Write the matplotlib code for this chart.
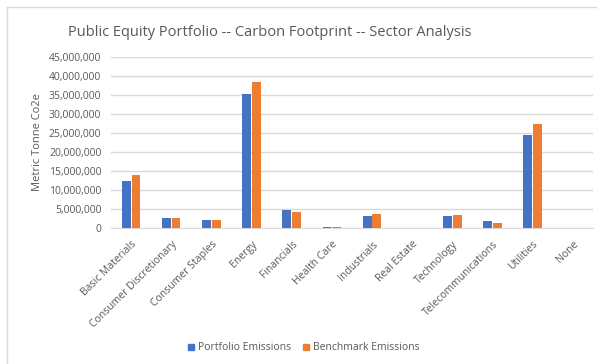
import matplotlib.pyplot as plt
import numpy as np
from matplotlib.ticker import FuncFormatter
from matplotlib.lines import Line2D

plt.rcParams['font.family'] = ['Open Sans', 'DejaVu Sans']

sectors = [
    "Basic Materials", "Consumer Discretionary", "Consumer Staples", "Energy",
    "Financials", "Health Care", "Industrials", "Real Estate", "Technology",
    "Telecommunications", "Utilities", "None",
]
portfolio = [12.4e6, 2.6e6, 2.0e6, 35.1e6, 4.8e6, 0.3e6, 3.2e6, 0, 3.0e6, 1.8e6, 24.4e6, 0]
benchmark = [13.9e6, 2.7e6, 2.0e6, 38.3e6, 4.1e6, 0.3e6, 3.7e6, 0, 3.3e6, 1.3e6, 27.3e6, 0]

BLUE = "#4472C4"
ORANGE = "#ED7D31"
GREY = "#595959"

fig = plt.figure(figsize=(5.97, 3.64), dpi=100)
ax = fig.add_axes([0.186, 0.374, 0.807, 0.470])

x = np.arange(len(sectors))
w = 0.22
ax.bar(x - 0.12, portfolio, w, color=BLUE, label="Portfolio Emissions", zorder=3)
ax.bar(x + 0.12, benchmark, w, color=ORANGE, label="Benchmark Emissions", zorder=3)

ax.set_xlim(-0.5, len(sectors) - 0.5)
ax.set_ylim(0, 45e6)
ax.set_yticks(np.arange(0, 45e6 + 1, 5e6))
ax.yaxis.set_major_formatter(FuncFormatter(lambda v, p: f"{v:,.0f}"))
ax.grid(axis="y", color="#D9D9D9", linewidth=1, zorder=0)
for s in ["top", "right", "left"]:
    ax.spines[s].set_visible(False)
ax.spines["bottom"].set_color("#D9D9D9")
ax.tick_params(axis="both", length=0, labelsize=7.5, colors=GREY)
ax.tick_params(axis="y", pad=7)
ax.tick_params(axis="x", pad=8)

ax.set_xticks(x)
ax.set_xticklabels(sectors, rotation=45, ha="right", rotation_mode="anchor")
ax.set_ylabel("Metric Tonne Co2e", fontsize=8, color=GREY, labelpad=4)

fig.text(0.452, 0.912, "Public Equity Portfolio -- Carbon Footprint -- Sector Analysis",
         ha="center", va="center", fontsize=10.5, color=GREY)

handles = [
    Line2D([], [], marker="s", linestyle="", color=BLUE, markersize=5),
    Line2D([], [], marker="s", linestyle="", color=ORANGE, markersize=5),
]
fig.legend(handles, ["Portfolio Emissions", "Benchmark Emissions"],
           loc="center", bbox_to_anchor=(0.506, 0.044), ncol=2, frameon=False,
           fontsize=7.5, labelcolor=GREY, handletextpad=0.0, columnspacing=0.9,
           handlelength=1.2)

# chart border (left and top edges visible in the crop)
fig.add_artist(Line2D([0.012, 0.012], [0, 0.98], transform=fig.transFigure, color="#D9D9D9", lw=1))
fig.add_artist(Line2D([0.012, 1.0], [0.98, 0.98], transform=fig.transFigure, color="#D9D9D9", lw=1))

fig.savefig("out.png", dpi=100)
